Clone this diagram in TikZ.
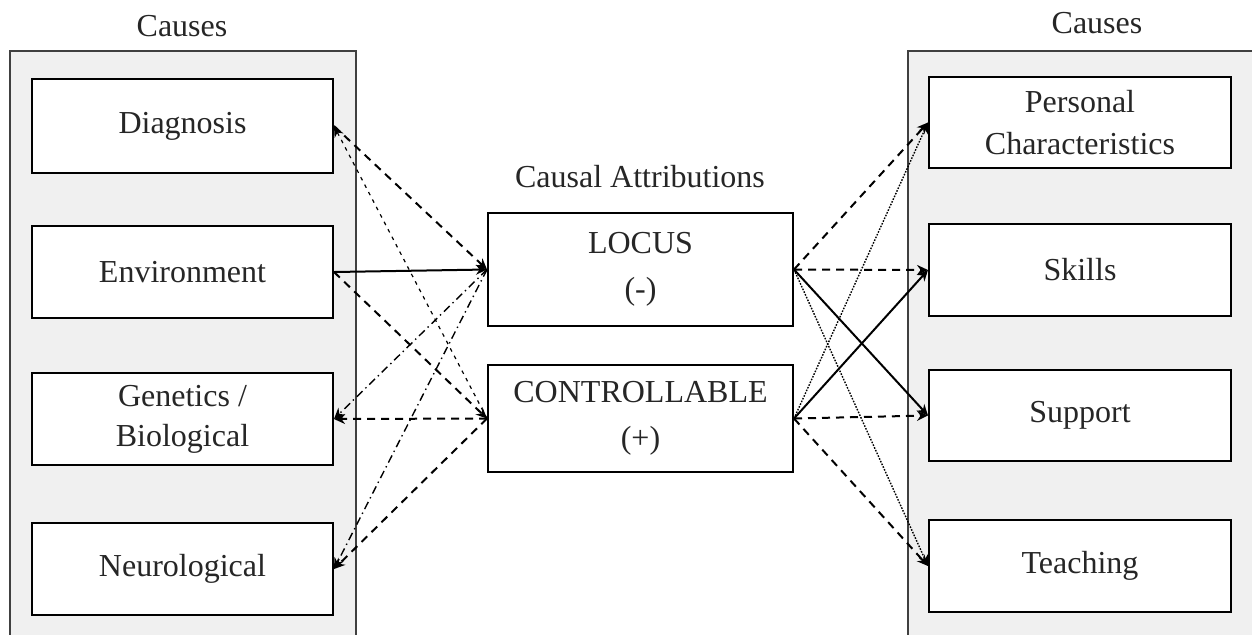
\documentclass[tikz,border=0pt]{standalone}
\usepackage{fontspec}
\setmainfont{Liberation Serif}
\usetikzlibrary{arrows.meta}
\begin{document}
\begin{tikzpicture}[x=0.5pt,y=-0.5pt,
  every node/.style={font=\fontsize{16}{20}\selectfont, text=black!85},
  cbox/.style={draw=black, line width=1pt, fill=white, inner sep=0pt, align=center},
  lbox/.style={cbox, minimum width=150.5pt, minimum height=46pt},
  rbox/.style={cbox, minimum width=151pt, minimum height=46pt},
  mbox/.style={cbox, minimum width=152.5pt},
  panel/.style={fill=black!6},
  pedge/.style={draw=black!75, line width=1pt},
  tip/.style={-{Stealth[length=5.5pt,width=5pt]}},
  heavydash/.style={line width=1pt, dash pattern=on 4pt off 3pt, tip},
  finedash/.style={line width=0.6pt, dash pattern=on 1.8pt off 2.4pt, tip},
  dashdot/.style={line width=0.7pt, dash pattern=on 4pt off 2pt on 0.7pt off 2pt, tip},
  fdot/.style={line width=0.7pt, dash pattern=on 0.8pt off 0.7pt, tip},
  solidln/.style={line width=1pt, tip}
]
\useasboundingbox (0,0) rectangle (1252,634);
% panels
\fill[panel] (10,51) rectangle (356,640);
\draw[pedge] (10,640) -- (10,51) -- (356,51) -- (356,640);
\fill[panel] (908,51) rectangle (1260,640);
\draw[pedge] (908,640) -- (908,51) -- (1260,51);

% titles
\node (tl) at (182,26) {Causes};
\node (tr) at (1097,23) {Causes};
\node (tm) at (640,177) {Causal Attributions};

% left boxes
\node[lbox, minimum height=47pt] (diag) at (182.5,126) {Diagnosis};
\node[lbox] (env) at (182.5,272) {Environment};
\node[lbox] (gen) at (182.5,419) {Genetics /\\Biological};
\node[lbox] (neu) at (182.5,569) {Neurological};

% right boxes
\node[rbox, minimum height=45.5pt] (pers) at (1080,122.5) {Personal\\[1pt]Characteristics};
\node[rbox] (skil) at (1080,270) {Skills};
\node[rbox, minimum height=45.5pt] (supp) at (1080,415.5) {Support};
\node[rbox] (teach) at (1080,566) {Teaching};

% middle boxes
\node[mbox, minimum height=56.5pt] (loc) at (640.5,269.5) {LOCUS\\[3pt](-)};
\node[mbox, minimum height=53.5pt] (con) at (640.5,418.5) {CONTROLLABLE\\[3pt](+)};

% left connectors
\draw[heavydash] (diag.east) -- (loc.west);
\draw[finedash] (con.west) -- (diag.east);
\draw[solidln] (env.east) -- (loc.west);
\draw[heavydash] (env.east) -- (con.west);
\draw[dashdot] (loc.west) -- (gen.east);
\draw[heavydash] (con.west) -- (gen.east);
\draw[dashdot] (loc.west) -- (neu.east);
\draw[heavydash] (con.west) -- (neu.east);

% right connectors
\draw[heavydash] (loc.east) -- (pers.west);
\draw[heavydash] (loc.east) -- (skil.west);
\draw[solidln] (loc.east) -- (supp.west);
\draw[fdot] (loc.east) -- (teach.west);
\draw[fdot] (con.east) -- (pers.west);
\draw[solidln] (con.east) -- (skil.west);
\draw[heavydash] (con.east) -- (supp.west);
\draw[heavydash] (con.east) -- (teach.west);
\end{tikzpicture}
\end{document}
